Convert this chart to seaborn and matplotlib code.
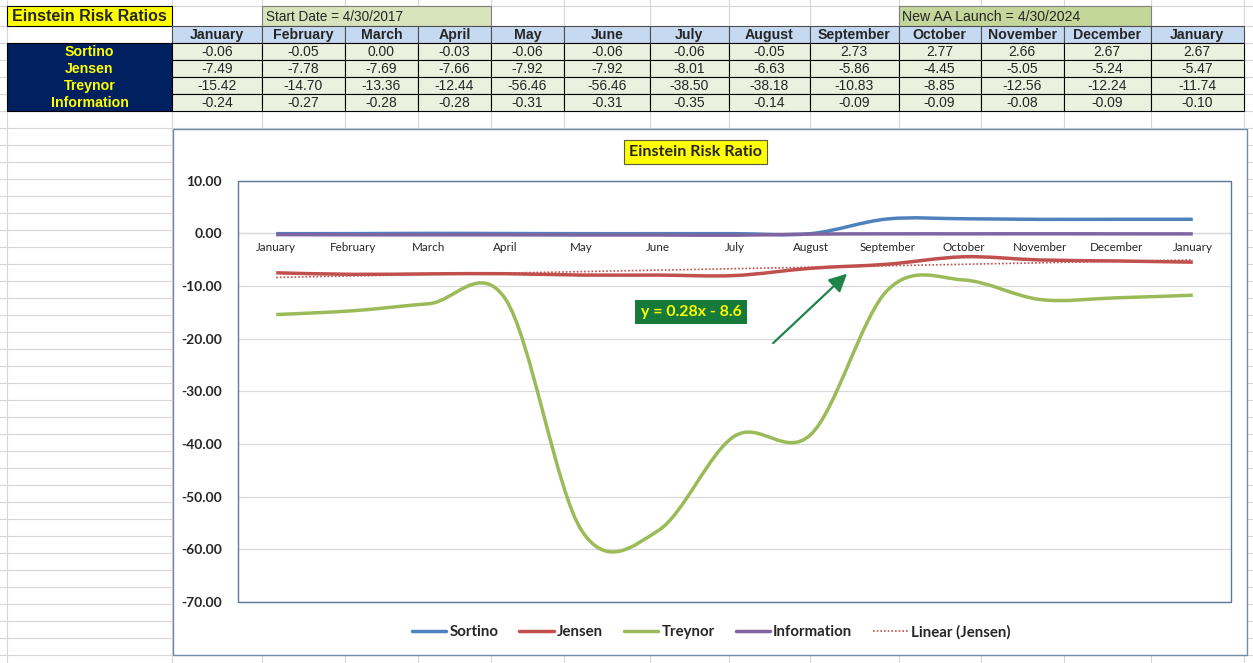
import numpy as np
import pandas as pd
import seaborn as sns
import matplotlib
matplotlib.use("Agg")
import matplotlib.pyplot as plt
from matplotlib.path import Path
from matplotlib.patches import PathPatch, Rectangle
from matplotlib.lines import Line2D
from matplotlib import font_manager as fm

# ---------------- data ----------------
months = ["January", "February", "March", "April", "May", "June", "July",
          "August", "September", "October", "November", "December", "January"]
sortino = [-0.06, -0.05, 0.00, -0.03, -0.06, -0.06, -0.06, -0.05, 2.73, 2.77, 2.66, 2.67, 2.67]
jensen = [-7.49, -7.78, -7.69, -7.66, -7.92, -7.92, -8.01, -6.63, -5.86, -4.45, -5.05, -5.24, -5.47]
treynor = [-15.42, -14.70, -13.36, -12.44, -56.46, -56.46, -38.50, -38.18, -10.83, -8.85, -12.56, -12.24, -11.74]
information = [-0.24, -0.27, -0.28, -0.28, -0.31, -0.31, -0.35, -0.14, -0.09, -0.09, -0.08, -0.09, -0.10]
series_names = ["Sortino", "Jensen", "Treynor", "Information"]
series_vals = [sortino, jensen, treynor, information]
series_colors = ["#4F81BD", "#C0504D", "#9BBB59", "#8064A2"]
yticks = [10, 0, -10, -20, -30, -40, -50, -60, -70]

sns.set_theme(style="white")
names = {f.name for f in fm.fontManager.ttflist}
chart_font = "Lato" if "Lato" in names else "DejaVu Sans"
narrow_font = "Liberation Sans Narrow" if "Liberation Sans Narrow" in names else "Liberation Sans"
arial = "Liberation Sans" if "Liberation Sans" in names else "DejaVu Sans"
plt.rcParams["font.family"] = [chart_font, "DejaVu Sans"]

W, H = 1253, 663
fig = plt.figure(figsize=(W / 100, H / 100), dpi=100)
fig.patch.set_facecolor("white")

# background (spreadsheet) axes in pixel coordinates
bg = fig.add_axes([0, 0, 1, 1], zorder=0)
bg.set_xlim(0, W)
bg.set_ylim(H, 0)
bg.axis("off")

grid_c = "#D6D6D6"
col_edges = [7, 172, 262, 345, 418, 491, 564, 650, 728.5, 810, 898.5, 980.5, 1064, 1150.5, 1244]
row_edges = [6, 26] + [43 + 17 * k for k in range(38)]
for x in col_edges:
    bg.plot([x, x], [0, H], color=grid_c, lw=0.8, zorder=0)
for y in row_edges:
    bg.plot([0, W], [y, y], color=grid_c, lw=0.8, zorder=0)

# ---- table ----
def cell(x0, x1, y0, y1, fc, ec="black", lw=0.8):
    bg.add_patch(Rectangle((x0, y0), x1 - x0, y1 - y0, facecolor=fc, edgecolor=ec, lw=lw, zorder=2))

# title box
cell(7, 172, 6, 26, "#FFFF00")
bg.text(89.5, 16.5, "Einstein Risk Ratios", ha="center", va="center", fontsize=11.5,
        fontweight="bold", family=arial, zorder=3)
# start date / launch boxes
cell(262, 491, 6, 26, "#D8E4BC", ec="#7F7F7F")
bg.text(266, 17, "Start Date = 4/30/2017", ha="left", va="center", fontsize=9.8,
        family=narrow_font, zorder=3)
cell(898.5, 1150.5, 6, 26, "#C4D79B", ec="#7F7F7F")
bg.text(902, 17, "New AA Launch = 4/30/2024", ha="left", va="center", fontsize=10.2,
        family=arial, zorder=3)

row_tops = [26, 43, 60, 77, 94, 111]
# header row
for i, m in enumerate(months):
    x0, x1 = col_edges[i + 1], col_edges[i + 2]
    cell(x0, x1, row_tops[0], row_tops[1], "#C5D9F1", ec="#4F4F4F")
    bg.text((x0 + x1) / 2, 35, m, ha="center", va="center", fontsize=10.2,
            fontweight="bold", family=narrow_font, zorder=3)
# label block
bg.add_patch(Rectangle((7, 43), 165, 68, facecolor="#002060", edgecolor="black", lw=0.8, zorder=2))
for r, (nm, vals) in enumerate(zip(series_names, series_vals)):
    y0, y1 = row_tops[r + 1], row_tops[r + 2]
    bg.text(89.5, (y0 + y1) / 2 + 0.5, nm, ha="center", va="center", fontsize=10.2,
            fontweight="bold", color="#FFFF00", family=narrow_font, zorder=3)
    for i, v in enumerate(vals):
        x0, x1 = col_edges[i + 1], col_edges[i + 2]
        cell(x0, x1, y0, y1, "#EBF1DE")
        bg.text((x0 + x1) / 2, (y0 + y1) / 2 + 0.5, f"{v:.2f}", ha="center", va="center",
                fontsize=10, family=narrow_font, zorder=3)

# chart outer box
bg.add_patch(Rectangle((173, 128.5), 1074, 526.5, facecolor="white", edgecolor="#6F8CAB",
                       lw=1.0, zorder=4))
bg.text(695.5, 152, "Einstein Risk Ratio", ha="center", va="center", fontsize=11.6,
        fontweight="bold", zorder=5,
        bbox=dict(boxstyle="square,pad=0.3", fc="#FFFF00", ec="#5A5A3A", lw=0.8))

# ---------------- chart axes ----------------
L, R, T, B = 238, 1231, 180.7, 602
ax = fig.add_axes([L / W, 1 - B / H, (R - L) / W, (B - T) / H], zorder=5)
ax.set_facecolor("white")
pos = np.arange(1, len(months) + 1)


def smooth_patch(x, y, color):
    P = np.column_stack([x, y]).astype(float)
    n = len(P)
    verts = [tuple(P[0])]
    codes = [Path.MOVETO]
    for i in range(n - 1):
        p0 = P[i - 1] if i > 0 else P[i]
        p1, p2 = P[i], P[i + 1]
        p3 = P[i + 2] if i + 2 < n else P[i + 1]
        c1 = p1 + (p2 - p0) / 6.0
        c2 = p2 - (p3 - p1) / 6.0
        verts += [tuple(c1), tuple(c2), tuple(p2)]
        codes += [Path.CURVE4] * 3
    return PathPatch(Path(verts, codes), fill=False, edgecolor=color, lw=2.5,
                     capstyle="butt", joinstyle="round", zorder=3)


for nm, vals, c in zip(series_names, series_vals, series_colors):
    ax.add_patch(smooth_patch(pos, vals, c))

# linear trend of Jensen
df = pd.DataFrame({"x": pos, "jensen": jensen})
sns.regplot(data=df, x="x", y="jensen", scatter=False, ci=None, truncate=True, ax=ax,
            line_kws=dict(color="#C0504D", lw=1.2, ls=(0, (1, 1.2)), zorder=4))

# axis styling (after seaborn)
ax.set_xlabel("")
ax.set_ylabel("")
ax.set_xlim(0.5, len(months) + 0.5)
ax.set_ylim(-70, 10)
ax.set_yticks(yticks)
ax.set_yticklabels([f"{t:.2f}" for t in yticks], fontweight="bold", fontsize=10)
ax.set_xticks(pos)
ax.set_xticklabels(months, fontsize=8.4, color="#111111")
ax.yaxis.grid(True, color="#D9D9D9", lw=0.9)
ax.xaxis.grid(False)
ax.set_axisbelow(True)
for s in ["left", "right", "top"]:
    ax.spines[s].set_visible(False)
ax.spines["bottom"].set_visible(True)
ax.spines["bottom"].set_position(("data", 0))
ax.spines["bottom"].set_color("#D9D9D9")
ax.spines["bottom"].set_linewidth(0.9)
ax.tick_params(axis="both", length=0)
ax.tick_params(axis="x", pad=6, labelsize=8.4)
ax.tick_params(axis="y", pad=11.5, labelsize=10)
ax.add_patch(Rectangle((0, 0), 1, 1, transform=ax.transAxes, fill=False,
                       ec="#5B7A99", lw=1.0, zorder=10, clip_on=False))

m, b = np.polyfit(pos, jensen, 1)
sign = "-" if b < 0 else "+"
ax.text(6.43, -14.9, f"y = {m:.2f}x {sign} {abs(b):.1f}", ha="center", va="center",
        fontsize=11.4, fontweight="bold", color="#FFFF00", zorder=6,
        bbox=dict(boxstyle="square,pad=0.33", fc="#157A3A", ec="none"))
ax.annotate("", xy=(8.50, -7.3), xytext=(7.48, -21.2),
            arrowprops=dict(arrowstyle="-|>,head_length=0.9,head_width=0.45",
                            color="#1E8449", lw=1.6), zorder=6)

handles = [Line2D([], [], color=c, lw=2.5) for c in series_colors]
handles.append(Line2D([], [], color="#C0504D", lw=1.2, ls=(0, (1, 1.2))))
labels = series_names + ["Linear (Jensen)"]
leg = ax.legend(handles, labels, loc="center", bbox_to_anchor=(711 / W, 1 - 632 / H),
                bbox_transform=fig.transFigure, ncol=5, frameon=False,
                prop=dict(weight="bold", size=10.8), handlelength=2.3,
                handletextpad=0.2, columnspacing=1.4)

fig.savefig("out.png", dpi=100, facecolor="white")
